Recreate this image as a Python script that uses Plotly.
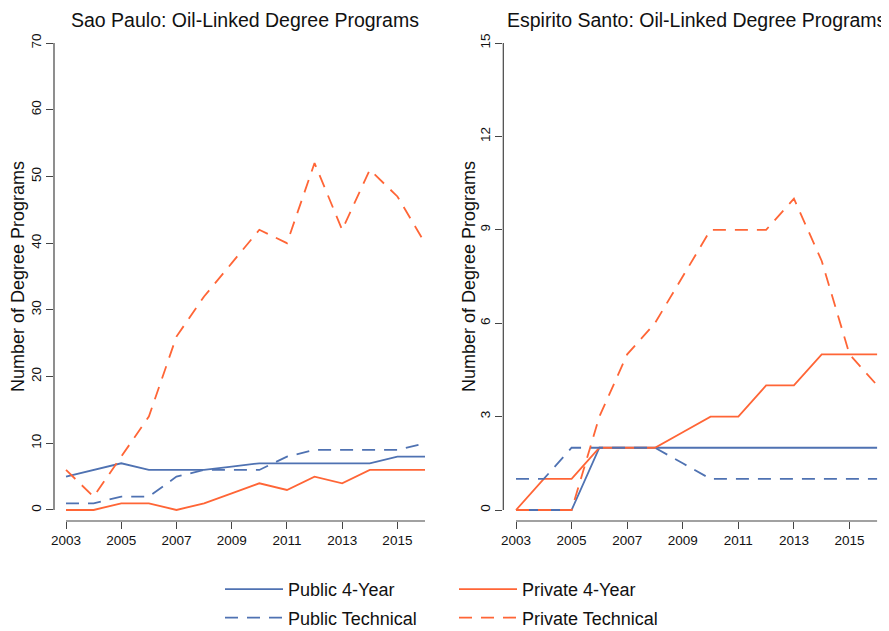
import plotly.graph_objects as go
from plotly.subplots import make_subplots

years = list(range(2003, 2017))

# Sao Paulo
sp_public_4yr = [5, 6, 7, 6, 6, 6, 6.5, 7, 7, 7, 7, 7, 8, 8]
sp_public_tech = [1, 1, 2, 2, 5, 6, 6, 6, 8, 9, 9, 9, 9, 10]
sp_private_4yr = [0, 0, 1, 1, 0, 1, 2.5, 4, 3, 5, 4, 6, 6, 6]
sp_private_tech = [6, 2, 8, 14, 26, 32, 37, 42, 40, 52, 42, 51, 47, 40]

# Espirito Santo
es_public_4yr = [0, 0, 0, 2, 2, 2, 2, 2, 2, 2, 2, 2, 2, 2]
es_public_tech = [1, 1, 2, 2, 2, 2, 1.5, 1, 1, 1, 1, 1, 1, 1]
es_private_4yr = [0, 1, 1, 2, 2, 2, 2.5, 3, 3, 4, 4, 5, 5, 5]
es_private_tech = [0, 0, 0, 3, 5, 6, 7.5, 9, 9, 9, 10, 8, 5, 4]

x_ticks = [2003, 2005, 2007, 2009, 2011, 2013, 2015]
sp_y_ticks = [0, 10, 20, 30, 40, 50, 60, 70]
es_y_ticks = [0, 3, 6, 9, 12, 15]

titles = ["Sao Paulo: Oil-Linked Degree Programs",
          "Espirito Santo: Oil-Linked Degree Programs"]
y_title = "Number of Degree Programs"

BLUE = "#4F72B2"
ORANGE = "#FF6536"
FONT = "Liberation Sans, Arial, sans-serif"
AXC = "#444444"
W, H = 889, 631
OFF = 8  # page body margin offset

fig = make_subplots(rows=1, cols=2)

series = [
    ("Public 4-Year", BLUE, "solid", sp_public_4yr, es_public_4yr, "legend"),
    ("Private 4-Year", ORANGE, "solid", sp_private_4yr, es_private_4yr, "legend2"),
    ("Public Technical", BLUE, "13px,9px", sp_public_tech, es_public_tech, "legend"),
    ("Private Technical", ORANGE, "13px,9px", sp_private_tech, es_private_tech, "legend2"),
]
for name, color, dash, sp, es, lg in series:
    fig.add_trace(go.Scatter(x=years, y=sp, mode="lines", name=name, legendgroup=name,
                             line=dict(color=color, width=1.8, dash=dash),
                             legend=lg, showlegend=True), row=1, col=1)
    fig.add_trace(go.Scatter(x=years, y=es, mode="lines", name=name, legendgroup=name,
                             line=dict(color=color, width=1.8, dash=dash),
                             legend=lg, showlegend=False), row=1, col=2)

# pixel geometry helpers (screen pixels -> paper fraction)
def px_x(p):
    return (p - OFF) / W

def px_y(p):
    return 1 - (p - OFF) / H

left_dom = [px_x(54), px_x(425)]
right_dom = [px_x(503.3), px_x(877.3)]
y_dom = [px_y(521), px_y(43)]

common_x = dict(showgrid=False, zeroline=False, showline=False, ticks="outside",
                ticklen=7, tickwidth=1, tickcolor=AXC, tickvals=x_ticks, automargin=False,
                tickfont=dict(family=FONT, size=13.5, color="#111111"))
common_y = dict(showgrid=False, zeroline=False, showline=False, ticks="outside",
                ticklen=7, tickwidth=1, tickcolor=AXC, tickangle=-90, automargin=False,
                tickfont=dict(family=FONT, size=13.5, color="#111111"))

fig.update_xaxes(domain=left_dom, range=[2002.565, 2016], **common_x, row=1, col=1)
fig.update_xaxes(domain=right_dom, range=[2002.543, 2016], **common_x, row=1, col=2)
fig.update_yaxes(domain=y_dom, range=[-1.65, 70], tickvals=sp_y_ticks, **common_y, row=1, col=1)
fig.update_yaxes(domain=y_dom, range=[-0.353, 15], tickvals=es_y_ticks, **common_y, row=1, col=2)

# R-style axis lines spanning only the data/tick extents
for xr, yr, yt in [("x", "y", sp_y_ticks), ("x2", "y2", es_y_ticks)]:
    fig.add_shape(type="line", xref=xr, yref=yr + " domain", x0=years[0], x1=years[-1],
                  y0=0, y1=0, line=dict(color=AXC, width=1.2))
    fig.add_shape(type="line", xref=xr + " domain", yref=yr, x0=0, x1=0,
                  y0=yt[0], y1=yt[-1], line=dict(color=AXC, width=1.2))

# titles
for t, xc in zip(titles, [245, 697]):
    fig.add_annotation(text=t, x=px_x(xc), y=px_y(20.5), xref="paper", yref="paper",
                       showarrow=False, font=dict(family=FONT, size=19.5, color="#111111"),
                       xanchor="center", yanchor="middle")
for xp in [18, 469]:
    fig.add_annotation(text=y_title, x=px_x(xp), y=px_y(277), xref="paper", yref="paper",
                       showarrow=False, textangle=-90,
                       font=dict(family=FONT, size=18, color="#111111"),
                       xanchor="center", yanchor="middle")

leg_common = dict(orientation="v", font=dict(family=FONT, size=18, color="#111111"),
                  bgcolor="rgba(0,0,0,0)", borderwidth=0, itemwidth=58,
                  xanchor="left", yanchor="bottom", y=px_y(636), tracegroupgap=2)
fig.update_layout(
    width=W, height=H,
    margin=dict(l=0, r=0, t=0, b=0, autoexpand=False),
    paper_bgcolor="white", plot_bgcolor="white",
    legend=dict(x=px_x(220), **leg_common),
    legend2=dict(x=px_x(454), **leg_common),
)

fig.write_html("out.html")
